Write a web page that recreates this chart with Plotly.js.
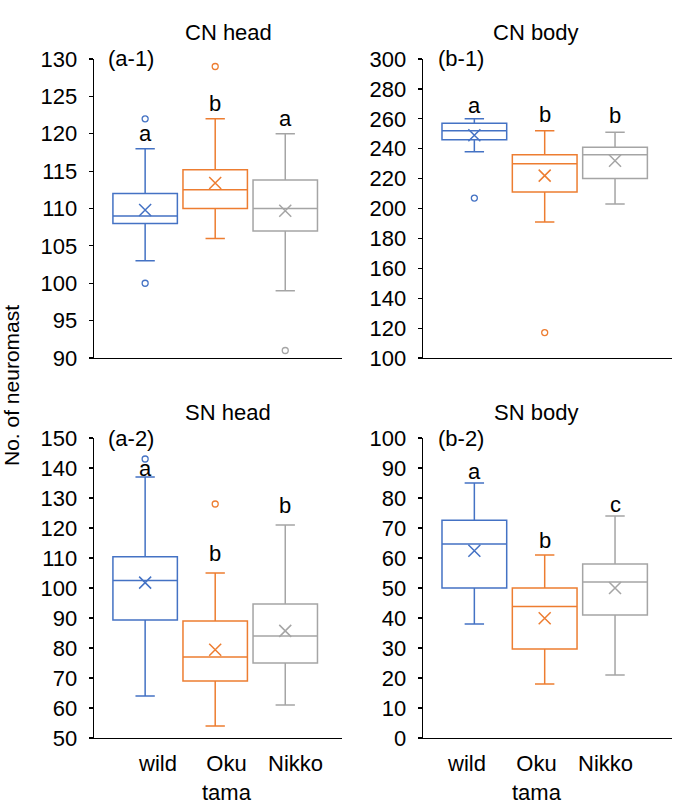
<!DOCTYPE html>
<html>
<head>
<meta charset="utf-8">
<script src="https://cdn.plot.ly/plotly-3.0.1.min.js"></script>
<style>html,body{margin:0;padding:0;background:#fff;}#chart{width:685px;height:800px;}</style>
</head>
<body>
<div id="chart"></div>
<script>
// ---- data ----
const groups = ["wild", "Oku<br>tama", "Nikko"];
const colors = ["#4472C4", "#ED7D31", "#A5A5A5"];

// CN head (a-1)
const cnHeadLow = [103, 106, 99];
const cnHeadQ1 = [108, 110, 107];
const cnHeadMed = [109, 112.5, 110];
const cnHeadQ3 = [112, 115.2, 113.8];
const cnHeadHigh = [118, 122, 120];
const cnHeadMean = [109.8, 113.4, 109.7];
const cnHeadOut = [[122, 100], [129], [91]];
const cnHeadLetters = ["a", "b", "a"];
const cnHeadLetterY = [120.1, 124.1, 122.1];

// CN body (b-1)
const cnBodyLow = [238, 191, 203];
const cnBodyQ1 = [246, 211, 220];
const cnBodyMed = [252, 230, 236];
const cnBodyQ3 = [257, 236, 241];
const cnBodyHigh = [260, 252, 251];
const cnBodyMean = [249, 222, 232];
const cnBodyOut = [[207], [117], []];
const cnBodyLetters = ["a", "b", "b"];
const cnBodyLetterY = [268.7, 263.2, 262];

// SN head (a-2)
const snHeadLow = [64, 54, 61];
const snHeadQ1 = [89.3, 69, 75];
const snHeadMed = [102.5, 77, 84];
const snHeadQ3 = [110.4, 89, 94.7];
const snHeadHigh = [137, 105, 121];
const snHeadMean = [101.8, 79.4, 85.7];
const snHeadOut = [[143], [128], []];
const snHeadLetters = ["a", "b", "b"];
const snHeadLetterY = [139.8, 111.4, 127.6];

// SN body (b-2)
const snBodyLow = [38, 18, 21];
const snBodyQ1 = [50, 29.7, 41];
const snBodyMed = [64.7, 43.8, 52];
const snBodyQ3 = [72.6, 50, 58];
const snBodyHigh = [85, 61, 74];
const snBodyMean = [62.4, 39.9, 50];
const snBodyOut = [[], [], []];
const snBodyLetters = ["a", "b", "c"];
const snBodyLetterY = [89, 66, 78];

const panelTitles = ["CN head", "CN body", "SN head", "SN body"];
const panelLabels = ["(a-1)", "(b-1)", "(a-2)", "(b-2)"];
const yTitle = "No. of neuromast";

// ---- build ----
const FONT = "Liberation Sans, Arial, sans-serif";
const panels = [
  {low: cnHeadLow, q1: cnHeadQ1, med: cnHeadMed, q3: cnHeadQ3, high: cnHeadHigh, mean: cnHeadMean, out: cnHeadOut, let: cnHeadLetters, letY: cnHeadLetterY, xa: "x", ya: "y"},
  {low: cnBodyLow, q1: cnBodyQ1, med: cnBodyMed, q3: cnBodyQ3, high: cnBodyHigh, mean: cnBodyMean, out: cnBodyOut, let: cnBodyLetters, letY: cnBodyLetterY, xa: "x2", ya: "y2"},
  {low: snHeadLow, q1: snHeadQ1, med: snHeadMed, q3: snHeadQ3, high: snHeadHigh, mean: snHeadMean, out: snHeadOut, let: snHeadLetters, letY: snHeadLetterY, xa: "x3", ya: "y3"},
  {low: snBodyLow, q1: snBodyQ1, med: snBodyMed, q3: snBodyQ3, high: snBodyHigh, mean: snBodyMean, out: snBodyOut, let: snBodyLetters, letY: snBodyLetterY, xa: "x4", ya: "y4"}
];

const traces = [];
const annotations = [];
panels.forEach((p, pi) => {
  groups.forEach((g, gi) => {
    traces.push({
      type: "box", x: [gi], q1: [p.q1[gi]], median: [p.med[gi]], q3: [p.q3[gi]],
      lowerfence: [p.low[gi]], upperfence: [p.high[gi]],
      width: 0.92, whiskerwidth: 0.3, boxpoints: false,
      line: {color: colors[gi], width: 1.5}, fillcolor: "rgba(255,255,255,0)",
      xaxis: p.xa, yaxis: p.ya, showlegend: false, hoverinfo: "skip"
    });
    traces.push({
      type: "scatter", mode: "markers", x: [gi], y: [p.mean[gi]],
      marker: {symbol: "x-thin-open", size: 12, color: colors[gi], line: {color: colors[gi], width: 1.5}},
      xaxis: p.xa, yaxis: p.ya, showlegend: false, hoverinfo: "skip"
    });
    if (p.out[gi].length) {
      traces.push({
        type: "scatter", mode: "markers", x: p.out[gi].map(() => gi), y: p.out[gi],
        marker: {symbol: "circle-open", size: 6, color: colors[gi], line: {color: colors[gi], width: 1.3}},
        xaxis: p.xa, yaxis: p.ya, showlegend: false, hoverinfo: "skip", cliponaxis: false
      });
    }
    annotations.push({
      xref: p.xa, yref: p.ya, x: gi, y: p.letY[gi], text: p.let[gi], showarrow: false,
      font: {family: FONT, size: 22, color: "#000"}, xanchor: "center", yanchor: "middle"
    });
  });
});

// category labels under bottom panels
const labelShift = {x3: 12, x4: -8};
["x3", "x4"].forEach(xa => {
  groups.forEach((g, gi) => {
    annotations.push({
      xref: xa, yref: "paper", x: gi, y: 1 - 749 / 800, text: g, showarrow: false,
      xshift: labelShift[xa] + (gi === 2 ? -2 : 0), font: {family: FONT, size: 22, color: "#000"},
      xanchor: "center", yanchor: "top", align: "center"
    });
  });
});

// panel titles & labels
const titlePos = [[228, 32], [536, 32], [228, 412], [536, 412]];
const labelPos = [[106, 58], [436, 58], [106, 438], [436, 438]];
panelTitles.forEach((t, i) => {
  annotations.push({xref: "paper", yref: "paper", x: titlePos[i][0] / 685, y: 1 - titlePos[i][1] / 800,
    text: t, showarrow: false, font: {family: FONT, size: 22, color: "#000"}, xanchor: "center", yanchor: "middle"});
  annotations.push({xref: "paper", yref: "paper", x: labelPos[i][0] / 685, y: 1 - labelPos[i][1] / 800,
    text: panelLabels[i], showarrow: false, font: {family: FONT, size: 22, color: "#000"}, xanchor: "left", yanchor: "middle"});
});
annotations.push({xref: "paper", yref: "paper", x: 12 / 685, y: 1 - 386 / 800, text: yTitle, textangle: -90,
  showarrow: false, font: {family: FONT, size: 21, color: "#000"}, xanchor: "center", yanchor: "middle"});

const xDomL = [94 / 685, 342 / 685], xDomR = [423 / 685, 672 / 685];
const yDomT = [1 - 358 / 800, 1 - 59 / 800], yDomB = [1 - 738 / 800, 1 - 438 / 800];

function xax(dom, anchor) {
  return {domain: dom, anchor: anchor, range: [-0.73, 2.81], showticklabels: false, ticks: "",
    showgrid: false, zeroline: false, showline: true, linecolor: "#000", linewidth: 1.3, fixedrange: true};
}
function yax(dom, anchor, range, dtick) {
  return {domain: dom, anchor: anchor, range: range, dtick: dtick, tick0: range[0], ticks: "outside", ticklen: 4,
    tickcolor: "#000", tickwidth: 1.2, showgrid: false, zeroline: false, showline: true, linecolor: "#000",
    linewidth: 1.3, ticklabelstandoff: 7, tickfont: {family: FONT, size: 22, color: "#000"}, fixedrange: true};
}

const layout = {
  width: 685, height: 800, margin: {l: 0, r: 0, t: 0, b: 0},
  paper_bgcolor: "#fff", plot_bgcolor: "rgba(0,0,0,0)", boxmode: "overlay", showlegend: false,
  font: {family: FONT, color: "#000"},
  xaxis: xax(xDomL, "y"), yaxis: yax(yDomT, "x", [90, 130], 5),
  xaxis2: xax(xDomR, "y2"), yaxis2: yax(yDomT, "x2", [100, 300], 20),
  xaxis3: xax(xDomL, "y3"), yaxis3: yax(yDomB, "x3", [50, 150], 10),
  xaxis4: xax(xDomR, "y4"), yaxis4: yax(yDomB, "x4", [0, 100], 10),
  annotations: annotations
};

Plotly.newPlot("chart", traces, layout, {staticPlot: true, displayModeBar: false});
</script>
</body>
</html>
